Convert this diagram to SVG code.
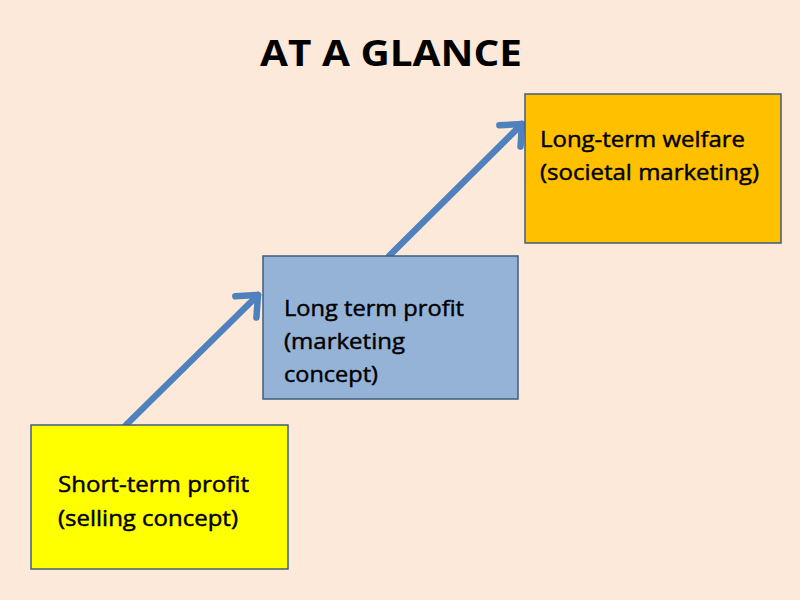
<svg xmlns="http://www.w3.org/2000/svg" width="800" height="600" viewBox="0 0 800 600">
<defs>
<style>
.box{stroke:#3F5E80;stroke-width:1.5}
.t{font-family:"Open Sans","Noto Sans",sans-serif;font-size:22px;fill:#000;stroke:#000;stroke-width:0.45}
.conn{stroke:#4F81BD;stroke-width:6.5;fill:none;stroke-linecap:round}
</style>
<marker id="ah" markerUnits="userSpaceOnUse" markerWidth="40" markerHeight="40" viewBox="-25 -20 30 40" refX="0" refY="0" orient="auto">
<path d="M-17,-15 L0,0 L-17,15" fill="none" stroke="#4F81BD" stroke-width="6.5" stroke-linecap="round" stroke-linejoin="round"/>
</marker>
</defs>
<rect width="800" height="600" fill="#FDE9D9"/>
<text x="391" y="66" text-anchor="middle" font-family="Open Sans, Noto Sans, sans-serif" font-size="36" font-weight="bold" textLength="262" lengthAdjust="spacingAndGlyphs">AT A GLANCE</text>
<g id="connectors">
<line class="conn" x1="126" y1="425" x2="258" y2="295" marker-end="url(#ah)"/>
<line class="conn" x1="389" y1="256" x2="522" y2="124" marker-end="url(#ah)"/>
</g>
<g id="node-short">
<rect class="box" x="31" y="425" width="257" height="144" fill="#FFFF00"/>
<text class="t" x="58" y="492" textLength="191" lengthAdjust="spacingAndGlyphs">Short-term profit</text>
<text class="t" x="58" y="526" textLength="180" lengthAdjust="spacingAndGlyphs">(selling concept)</text>
</g>
<g id="node-long">
<rect class="box" x="263" y="256" width="255" height="143" fill="#95B3D7"/>
<text class="t" x="284" y="316" textLength="180" lengthAdjust="spacingAndGlyphs">Long term profit</text>
<text class="t" x="284" y="349" textLength="121" lengthAdjust="spacingAndGlyphs">(marketing</text>
<text class="t" x="284" y="382" textLength="94" lengthAdjust="spacingAndGlyphs">concept)</text>
</g>
<g id="node-welfare">
<rect class="box" x="525" y="94" width="256" height="149" fill="#FFC000"/>
<text class="t" x="540" y="147" textLength="205" lengthAdjust="spacingAndGlyphs">Long-term welfare</text>
<text class="t" x="540" y="180" textLength="219" lengthAdjust="spacingAndGlyphs">(societal marketing)</text>
</g>
</svg>
